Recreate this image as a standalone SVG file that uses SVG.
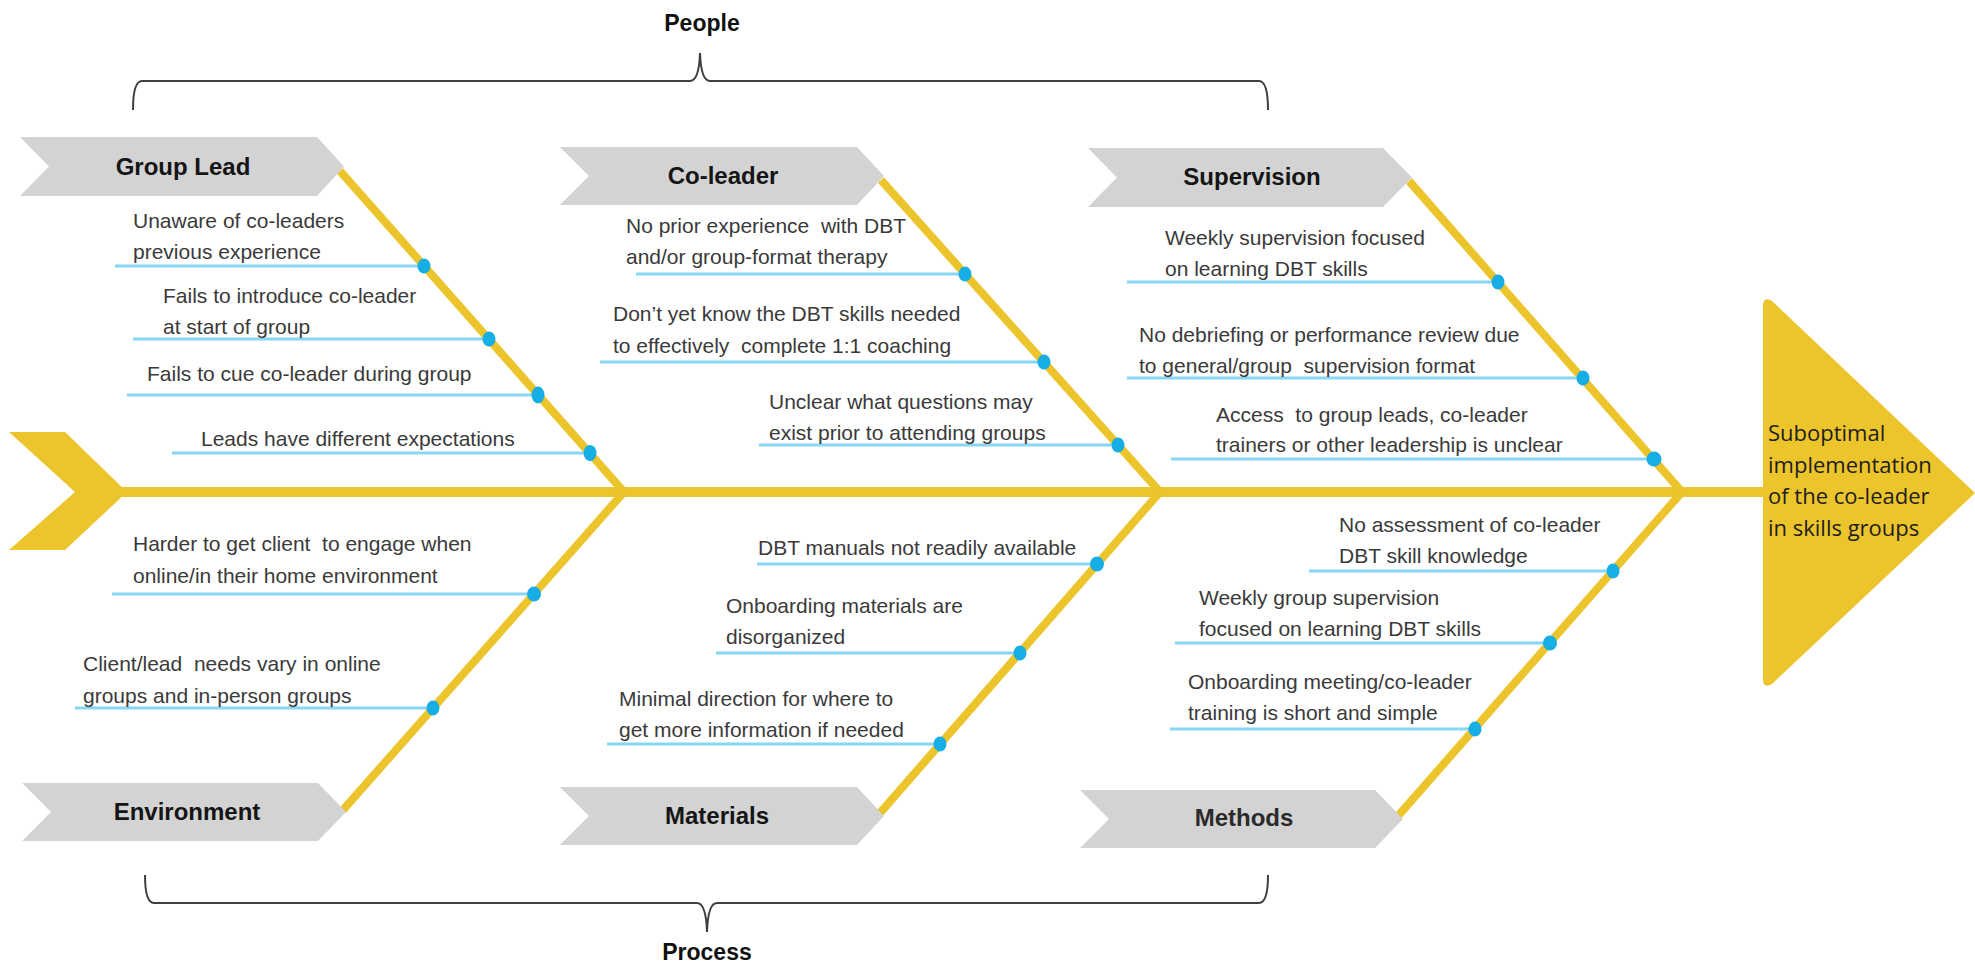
<svg xmlns="http://www.w3.org/2000/svg" width="1975" height="964" viewBox="0 0 1975 964">
  <style>
    .cat { fill: #d3d3d3; }
    .catlbl { font-family: "Liberation Sans", Arial, sans-serif; font-weight: bold; font-size: 24px; fill: #151515; text-anchor: middle; }
    .cause { font-family: "Liberation Sans", Arial, sans-serif; font-size: 21px; fill: #3a3a3a; white-space: pre; }
    .bone { stroke: #ecc42c; stroke-width: 8; fill: none; }
    .spine { stroke: #ecc42c; stroke-width: 10; fill: none; }
    .lead { stroke: #86d6f4; stroke-width: 3; }
    .dot { fill: #17aee6; }
    .brace { fill: none; stroke: #3f3f3f; stroke-width: 2; }
    .grp { font-family: "Liberation Sans", Arial, sans-serif; font-weight: bold; font-size: 23px; fill: #111; text-anchor: middle; }
    .effect { font-family: "Open Sans", "Liberation Sans", sans-serif; font-size: 22px; fill: #1e1e1e; }
  </style>

  <!-- grouping braces -->
  <g id="people">
    <path class="brace" d="M133,110 Q133,81 142,81 L690,81 Q699,81 700,53 Q701,81 710,81 L1259,81 Q1268,81 1268,110"/>
    <text class="grp" x="702" y="31">People</text>
  </g>
  <g id="process">
    <path class="brace" d="M145,875 Q145,903 154,903 L697,903 Q706,903 707,932 Q708,903 717,903 L1259,903 Q1268,903 1268,875"/>
    <text class="grp" x="707" y="960">Process</text>
  </g>

  <!-- bones, leader lines and dots -->
  <g id="connectors">
    <line class="spine" x1="120" y1="492" x2="1775" y2="492"/>
    <line class="bone" x1="340" y1="171" x2="624" y2="492"/>
    <line class="bone" x1="881" y1="180" x2="1160" y2="492"/>
    <line class="bone" x1="1409" y1="181" x2="1682" y2="492"/>
    <line class="bone" x1="624" y1="492" x2="343" y2="810"/>
    <line class="bone" x1="1160" y1="492" x2="880" y2="813"/>
    <line class="bone" x1="1682" y1="492" x2="1398" y2="816"/>

    <line class="lead" x1="115" y1="266" x2="424" y2="266"/>
    <line class="lead" x1="133" y1="339" x2="489" y2="339"/>
    <line class="lead" x1="127" y1="395" x2="538" y2="395"/>
    <line class="lead" x1="172" y1="453" x2="590" y2="453"/>

    <line class="lead" x1="636" y1="274" x2="965" y2="274"/>
    <line class="lead" x1="600" y1="362" x2="1044" y2="362"/>
    <line class="lead" x1="759" y1="445" x2="1118" y2="445"/>

    <line class="lead" x1="1127" y1="282" x2="1498" y2="282"/>
    <line class="lead" x1="1127" y1="378" x2="1583" y2="378"/>
    <line class="lead" x1="1171" y1="459" x2="1654" y2="459"/>

    <line class="lead" x1="112" y1="594" x2="534" y2="594"/>
    <line class="lead" x1="75" y1="708" x2="433" y2="708"/>

    <line class="lead" x1="757" y1="564" x2="1097" y2="564"/>
    <line class="lead" x1="716" y1="653" x2="1020" y2="653"/>
    <line class="lead" x1="607" y1="744" x2="940" y2="744"/>

    <line class="lead" x1="1309" y1="571" x2="1613" y2="571"/>
    <line class="lead" x1="1175" y1="643" x2="1550" y2="643"/>
    <line class="lead" x1="1170" y1="729" x2="1475" y2="729"/>

    <ellipse class="dot" cx="424" cy="266" rx="6.5" ry="7.5"/>
    <ellipse class="dot" cx="489" cy="339" rx="6.5" ry="7.5"/>
    <ellipse class="dot" cx="538" cy="395" rx="6.5" ry="8.5"/>
    <ellipse class="dot" cx="590" cy="453" rx="6.5" ry="8"/>
    <ellipse class="dot" cx="965" cy="274" rx="6.5" ry="7.5"/>
    <ellipse class="dot" cx="1044" cy="362" rx="6.5" ry="7.5"/>
    <ellipse class="dot" cx="1118" cy="445" rx="6.5" ry="7.5"/>
    <ellipse class="dot" cx="1498" cy="282" rx="6.5" ry="7.5"/>
    <ellipse class="dot" cx="1583" cy="378" rx="6.5" ry="7.5"/>
    <ellipse class="dot" cx="1654" cy="459" rx="7.5" ry="7.5"/>
    <ellipse class="dot" cx="534" cy="594" rx="7" ry="7.5"/>
    <ellipse class="dot" cx="433" cy="708" rx="6.5" ry="7.5"/>
    <ellipse class="dot" cx="1097" cy="564" rx="7" ry="7.5"/>
    <ellipse class="dot" cx="1020" cy="653" rx="6.5" ry="7.5"/>
    <ellipse class="dot" cx="940" cy="744" rx="6.5" ry="7.5"/>
    <ellipse class="dot" cx="1613" cy="571" rx="6.5" ry="7.5"/>
    <ellipse class="dot" cx="1550" cy="643" rx="7" ry="7.5"/>
    <ellipse class="dot" cx="1475" cy="729" rx="6.5" ry="7.5"/>
  </g>

  <!-- fish tail -->
  <g id="tail">
    <polygon fill="#ecc42c" points="9,432 65,432 127,492 65,550 9,550 75,492"/>
  </g>

  <!-- fish head: the effect -->
  <g id="effect">
    <path fill="#ecc42c" d="M1763,306 Q1763,296 1772,301 L1975,493 L1772,684 Q1763,689 1763,679 Z"/>
    <text class="effect">
      <tspan x="1768" y="441">Suboptimal</tspan>
      <tspan x="1768" y="473">implementation</tspan>
      <tspan x="1768" y="504">of the co-leader</tspan>
      <tspan x="1768" y="536">in skills groups</tspan>
    </text>
  </g>

  <!-- category heads -->
  <g id="cat-group-lead">
    <path class="cat" d="M20,137 L317,137 L344,166.5 L317,196 L20,196 L49,166.5 Z"/>
    <text class="catlbl" x="183" y="175">Group Lead</text>
  </g>
  <g id="cat-co-leader">
    <path class="cat" d="M560,147 L857,147 L884,176 L857,205 L560,205 L589,176 Z"/>
    <text class="catlbl" x="723" y="184">Co-leader</text>
  </g>
  <g id="cat-supervision">
    <path class="cat" d="M1088,148 L1383,148 L1412,177.5 L1383,207 L1088,207 L1117,177.5 Z"/>
    <text class="catlbl" x="1252" y="185">Supervision</text>
  </g>
  <g id="cat-environment">
    <path class="cat" d="M22,783 L318,783 L346,812 L318,841 L22,841 L51,812 Z"/>
    <text class="catlbl" x="187" y="820">Environment</text>
  </g>
  <g id="cat-materials">
    <path class="cat" d="M560,787 L857,787 L884,816 L857,845 L560,845 L589,816 Z"/>
    <text class="catlbl" x="717" y="824">Materials</text>
  </g>
  <g id="cat-methods">
    <path class="cat" d="M1080,790 L1375,790 L1403,819 L1375,848 L1080,848 L1109,819 Z"/>
    <text class="catlbl" x="1244" y="826" fill="#2a2a2a" style="fill:#2a2a2a">Methods</text>
  </g>

  <!-- causes: Group Lead -->
  <g id="gl-1"><text class="cause"><tspan x="133" y="228">Unaware of co-leaders</tspan><tspan x="133" y="259">previous experience</tspan></text></g>
  <g id="gl-2"><text class="cause"><tspan x="163" y="303">Fails to introduce co-leader</tspan><tspan x="163" y="334">at start of group</tspan></text></g>
  <g id="gl-3"><text class="cause" x="147" y="381">Fails to cue co-leader during group</text></g>
  <g id="gl-4"><text class="cause" x="201" y="446">Leads have different expectations</text></g>

  <!-- causes: Co-leader -->
  <g id="cl-1"><text class="cause"><tspan x="626" y="233">No prior experience  with DBT</tspan><tspan x="626" y="264">and/or group-format therapy</tspan></text></g>
  <g id="cl-2"><text class="cause"><tspan x="613" y="321">Don’t yet know the DBT skills needed</tspan><tspan x="613" y="353">to effectively  complete 1:1 coaching</tspan></text></g>
  <g id="cl-3"><text class="cause"><tspan x="769" y="409">Unclear what questions may</tspan><tspan x="769" y="440">exist prior to attending groups</tspan></text></g>

  <!-- causes: Supervision -->
  <g id="sv-1"><text class="cause"><tspan x="1165" y="245">Weekly supervision focused</tspan><tspan x="1165" y="276">on learning DBT skills</tspan></text></g>
  <g id="sv-2"><text class="cause"><tspan x="1139" y="342">No debriefing or performance review due</tspan><tspan x="1139" y="373">to general/group  supervision format</tspan></text></g>
  <g id="sv-3"><text class="cause"><tspan x="1216" y="422">Access  to group leads, co-leader</tspan><tspan x="1216" y="452">trainers or other leadership is unclear</tspan></text></g>

  <!-- causes: Environment -->
  <g id="en-1"><text class="cause"><tspan x="133" y="551">Harder to get client  to engage when</tspan><tspan x="133" y="583">online/in their home environment</tspan></text></g>
  <g id="en-2"><text class="cause"><tspan x="83" y="671">Client/lead  needs vary in online</tspan><tspan x="83" y="703">groups and in-person groups</tspan></text></g>

  <!-- causes: Materials -->
  <g id="ma-1"><text class="cause" x="758" y="555">DBT manuals not readily available</text></g>
  <g id="ma-2"><text class="cause"><tspan x="726" y="613">Onboarding materials are</tspan><tspan x="726" y="644">disorganized</tspan></text></g>
  <g id="ma-3"><text class="cause"><tspan x="619" y="706">Minimal direction for where to</tspan><tspan x="619" y="737">get more information if needed</tspan></text></g>

  <!-- causes: Methods -->
  <g id="me-1"><text class="cause"><tspan x="1339" y="532">No assessment of co-leader</tspan><tspan x="1339" y="563">DBT skill knowledge</tspan></text></g>
  <g id="me-2"><text class="cause"><tspan x="1199" y="605">Weekly group supervision</tspan><tspan x="1199" y="636">focused on learning DBT skills</tspan></text></g>
  <g id="me-3"><text class="cause"><tspan x="1188" y="689">Onboarding meeting/co-leader</tspan><tspan x="1188" y="720">training is short and simple</tspan></text></g>
</svg>
